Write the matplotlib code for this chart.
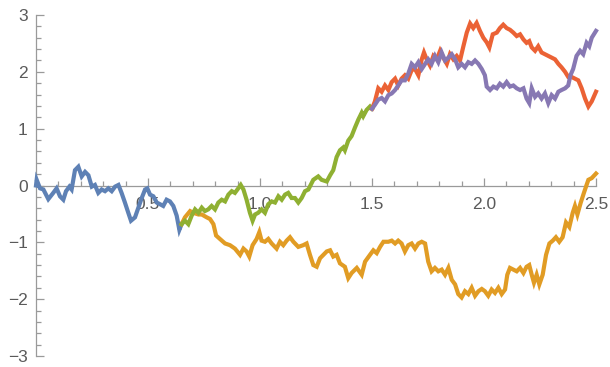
import matplotlib.pyplot as plt
from matplotlib.ticker import MultipleLocator, FixedLocator

blue_x = [0.0, 0.003, 0.018, 0.033, 0.055, 0.077, 0.092, 0.107, 0.122, 0.134, 0.149, 0.159,
          0.174, 0.189, 0.204, 0.219, 0.234, 0.249, 0.263, 0.278, 0.293, 0.308, 0.323, 0.338,
          0.353, 0.368, 0.382, 0.397, 0.412, 0.424, 0.442, 0.457, 0.472, 0.487, 0.497, 0.509,
          0.524, 0.539, 0.554, 0.568, 0.583, 0.598, 0.613, 0.628, 0.640, 0.650]
blue_y = [0.0, 0.10, -0.05, -0.07, -0.24, -0.13, -0.05, -0.19, -0.25, -0.10, -0.02, -0.07,
          0.27, 0.33, 0.16, 0.24, 0.18, -0.02, 0.01, -0.13, -0.07, -0.10, -0.05, -0.10,
          -0.02, 0.01, -0.13, -0.30, -0.48, -0.62, -0.56, -0.39, -0.22, -0.07, -0.05, -0.16,
          -0.19, -0.30, -0.33, -0.36, -0.25, -0.28, -0.36, -0.53, -0.78, -0.68]

orange_x = [0.650, 0.665, 0.688, 0.702, 0.725, 0.740, 0.762, 0.777, 0.792, 0.804, 0.821, 0.844,
            0.866, 0.888, 0.911, 0.926, 0.940, 0.952, 0.967, 0.985, 0.997, 1.007, 1.022, 1.037,
            1.052, 1.074, 1.089, 1.104, 1.119, 1.134, 1.149, 1.171, 1.193, 1.208, 1.223, 1.238,
            1.253, 1.268, 1.283, 1.298, 1.313, 1.327, 1.342, 1.357, 1.379, 1.394, 1.409, 1.432,
            1.454, 1.469, 1.491, 1.506, 1.521, 1.536, 1.551, 1.573, 1.588, 1.603, 1.617, 1.632,
            1.647, 1.662, 1.677, 1.692, 1.707, 1.722, 1.737, 1.751, 1.766, 1.781, 1.796, 1.811,
            1.826, 1.841, 1.856, 1.871, 1.885, 1.900, 1.915, 1.930, 1.945, 1.960, 1.975, 1.990,
            2.004, 2.019, 2.034, 2.049, 2.064, 2.079, 2.094, 2.104, 2.116, 2.131, 2.146, 2.161,
            2.176, 2.190, 2.202, 2.213, 2.223, 2.235, 2.247, 2.262, 2.277, 2.292, 2.307, 2.321,
            2.336, 2.351, 2.366, 2.381, 2.396, 2.406, 2.417, 2.432, 2.446, 2.458, 2.466, 2.481,
            2.500]
orange_y = [-0.68, -0.56, -0.45, -0.48, -0.51, -0.51, -0.56, -0.59, -0.68, -0.88, -0.94, -1.02,
            -1.05, -1.11, -1.22, -1.11, -1.16, -1.25, -1.05, -0.94, -0.82, -0.97, -0.99, -0.94,
            -1.02, -1.11, -0.99, -1.05, -0.97, -0.91, -0.99, -1.08, -1.05, -1.02, -1.22, -1.40,
            -1.43, -1.28, -1.22, -1.16, -1.14, -1.25, -1.22, -1.37, -1.43, -1.63, -1.54, -1.45,
            -1.57, -1.34, -1.22, -1.14, -1.19, -1.08, -0.99, -0.99, -0.97, -1.02, -0.97, -1.02,
            -1.16, -1.05, -1.02, -1.11, -1.02, -0.99, -1.02, -1.34, -1.51, -1.45, -1.51, -1.48,
            -1.57, -1.45, -1.66, -1.74, -1.91, -1.97, -1.86, -1.91, -1.80, -1.94, -1.86, -1.82,
            -1.86, -1.94, -1.83, -1.89, -1.80, -1.91, -1.83, -1.57, -1.45, -1.48, -1.51, -1.45,
            -1.54, -1.43, -1.40, -1.57, -1.71, -1.57, -1.74, -1.57, -1.22, -1.02, -0.97, -0.91,
            -0.99, -0.91, -0.65, -0.73, -0.48, -0.36, -0.51, -0.30, -0.13, 0.01, 0.10, 0.13,
            0.21]

green_x = [0.650, 0.665, 0.680, 0.695, 0.710, 0.725, 0.740, 0.754, 0.769, 0.784, 0.799, 0.814,
           0.829, 0.844, 0.859, 0.874, 0.888, 0.903, 0.914, 0.926, 0.940, 0.955, 0.967, 0.978,
           0.992, 1.007, 1.022, 1.037, 1.052, 1.067, 1.082, 1.097, 1.112, 1.126, 1.141, 1.156,
           1.171, 1.186, 1.201, 1.216, 1.238, 1.260, 1.275, 1.298, 1.313, 1.327, 1.342, 1.357,
           1.372, 1.379, 1.394, 1.409, 1.424, 1.439, 1.454, 1.461, 1.476, 1.491, 1.500]
green_y = [-0.68, -0.62, -0.68, -0.53, -0.42, -0.48, -0.39, -0.45, -0.42, -0.36, -0.42, -0.30,
           -0.25, -0.28, -0.16, -0.10, -0.13, -0.05, 0.01, -0.07, -0.25, -0.48, -0.62, -0.51,
           -0.48, -0.42, -0.48, -0.33, -0.28, -0.30, -0.19, -0.25, -0.16, -0.13, -0.22, -0.22,
           -0.30, -0.22, -0.10, -0.07, 0.10, 0.16, 0.10, 0.07, 0.18, 0.27, 0.50, 0.62,
           0.67, 0.62, 0.79, 0.87, 1.02, 1.16, 1.28, 1.22, 1.33, 1.39, 1.35]

red_x = [1.500, 1.513, 1.528, 1.543, 1.558, 1.573, 1.588, 1.603, 1.617, 1.632, 1.647, 1.662,
         1.677, 1.692, 1.707, 1.722, 1.732, 1.744, 1.759, 1.774, 1.789, 1.804, 1.818, 1.834,
         1.848, 1.863, 1.878, 1.893, 1.908, 1.923, 1.938, 1.952, 1.967, 1.982, 1.997, 2.012,
         2.024, 2.039, 2.057, 2.071, 2.086, 2.101, 2.116, 2.131, 2.146, 2.161, 2.176, 2.190,
         2.202, 2.213, 2.228, 2.242, 2.257, 2.272, 2.287, 2.302, 2.317, 2.332, 2.346, 2.362,
         2.376, 2.391, 2.406, 2.421, 2.436, 2.451, 2.466, 2.481, 2.500]
red_y = [1.35, 1.48, 1.71, 1.65, 1.76, 1.68, 1.82, 1.88, 1.76, 1.88, 1.94, 1.88,
         2.03, 2.05, 1.94, 2.22, 2.34, 2.22, 2.11, 2.28, 2.22, 2.37, 2.25, 2.14,
         2.31, 2.22, 2.28, 2.20, 2.45, 2.69, 2.85, 2.77, 2.86, 2.72, 2.60, 2.52,
         2.43, 2.66, 2.69, 2.77, 2.83, 2.77, 2.74, 2.69, 2.63, 2.66, 2.57, 2.51,
         2.54, 2.43, 2.37, 2.45, 2.34, 2.31, 2.28, 2.25, 2.22, 2.14, 2.08, 2.00,
         1.91, 1.91, 1.88, 1.85, 1.71, 1.53, 1.39, 1.48, 1.65]

purple_x = [1.500, 1.513, 1.528, 1.543, 1.558, 1.573, 1.588, 1.603, 1.617, 1.632, 1.647, 1.662,
            1.677, 1.692, 1.707, 1.722, 1.737, 1.751, 1.766, 1.781, 1.796, 1.811, 1.826, 1.841,
            1.856, 1.871, 1.885, 1.900, 1.915, 1.930, 1.945, 1.960, 1.975, 1.990, 2.004, 2.012,
            2.027, 2.042, 2.057, 2.071, 2.086, 2.101, 2.116, 2.131, 2.146, 2.161, 2.176, 2.190,
            2.202, 2.213, 2.228, 2.242, 2.257, 2.272, 2.287, 2.302, 2.317, 2.332, 2.346, 2.362,
            2.376, 2.386, 2.398, 2.413, 2.429, 2.443, 2.458, 2.470, 2.481, 2.500]
purple_y = [1.35, 1.42, 1.51, 1.54, 1.48, 1.59, 1.62, 1.68, 1.76, 1.85, 1.85, 1.97,
            2.14, 2.08, 2.17, 2.05, 2.14, 2.22, 2.14, 2.28, 2.17, 2.34, 2.20, 2.25,
            2.31, 2.22, 2.08, 2.14, 2.08, 2.17, 2.14, 2.20, 2.14, 2.05, 1.94, 1.74,
            1.68, 1.74, 1.71, 1.79, 1.74, 1.82, 1.74, 1.76, 1.71, 1.68, 1.71, 1.53,
            1.45, 1.71, 1.56, 1.62, 1.53, 1.62, 1.45, 1.59, 1.53, 1.65, 1.68, 1.71,
            1.76, 1.94, 2.05, 2.28, 2.37, 2.31, 2.51, 2.45, 2.60, 2.72]

paths = [
    (blue_x, blue_y, '#5E81B5'),
    (orange_x, orange_y, '#E19C24'),
    (green_x, green_y, '#8FB032'),
    (red_x, red_y, '#EB6235'),
    (purple_x, purple_y, '#8778B3'),
]

plt.rcParams['font.family'] = ['Liberation Sans', 'DejaVu Sans']

fig = plt.figure(figsize=(6.1, 3.67), dpi=100)
ax = fig.add_axes([36 / 610, 11 / 367, 560 / 610, 341 / 367])

for xs, ys, c in paths:
    ax.plot(xs, ys, color=c, lw=3.0, solid_joinstyle='miter', clip_on=False)

ax.set_xlim(0, 2.5)
ax.set_ylim(-3, 3)

axis_gray = '#9a9a9a'
for side in ['top', 'right']:
    ax.spines[side].set_visible(False)
ax.spines['bottom'].set_position(('data', 0))
ax.spines['left'].set_position(('data', 0))
for side in ['bottom', 'left']:
    ax.spines[side].set_color(axis_gray)
    ax.spines[side].set_linewidth(0.9)
    ax.spines[side].set_zorder(1)

ax.xaxis.set_major_locator(FixedLocator([0.5, 1.0, 1.5, 2.0, 2.5]))
ax.xaxis.set_minor_locator(MultipleLocator(0.1))
ax.yaxis.set_major_locator(MultipleLocator(1))
ax.yaxis.set_minor_locator(MultipleLocator(0.2))
ax.xaxis.set_major_formatter(plt.FuncFormatter(lambda v, p: f'{v:.1f}'))
ax.yaxis.set_major_formatter(plt.FuncFormatter(lambda v, p: f'{v:.0f}'.replace('-', '\u2212')))

ax.tick_params(which='both', direction='in', color=axis_gray, width=0.9,
               labelcolor='#5a5a5a', labelsize=12.5)
ax.tick_params(which='major', length=6)
ax.tick_params(which='minor', length=3.5)
ax.tick_params(axis='x', pad=8)
ax.tick_params(axis='y', pad=6)

fig.savefig('out.png', dpi=100)
